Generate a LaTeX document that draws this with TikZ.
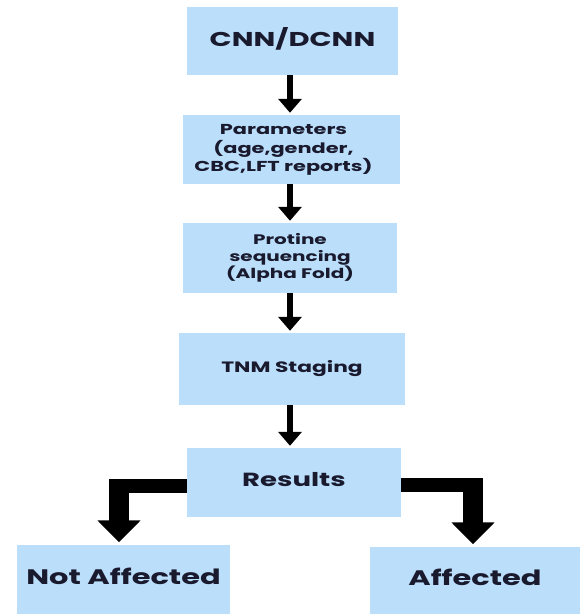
\documentclass[tikz,border=0pt]{standalone}
\usepackage{fontspec}
\setmainfont{Poppins}[UprightFont=* Bold, BoldFont=* Bold]
\usetikzlibrary{arrows.meta,calc}
\definecolor{boxblue}{HTML}{BBDEFB}
\definecolor{ink}{HTML}{1A1A2E}
\newcommand{\wtext}[3]{\scalebox{1.45}[1]{\fontsize{#1}{#2}\selectfont\begin{tabular}{@{}c@{}}#3\end{tabular}}}
\tikzset{
  box/.style={fill=boxblue, draw=none, inner sep=0pt, text=ink, anchor=center},
  varrow/.style={draw=black, line width=6pt, -{Triangle[width=23pt,length=14pt]}, shorten >=2pt},
  hbar/.style={draw=black, line width=14pt},
  bigarrow/.style={draw=black, line width=20pt, -{Triangle[width=42pt,length=22pt]}, shorten >=2.5pt},
}
\begin{document}
\begin{tikzpicture}[x=1pt,y=-1pt]
\useasboundingbox (0,0) rectangle (580,614);
\node[box, minimum width=211pt, minimum height=68pt] (b1) at (292.5,41) {\wtext{20}{24}{CNN/DCNN}};
\node[box, minimum width=217pt, minimum height=69pt] (b2) at (291.5,149.5) {\wtext{14.4}{18}{Parameters\\(age,gender,\\CBC,LFT reports)}\hspace*{16pt}};
\node[box, minimum width=214pt, minimum height=70pt] (b3) at (290,258) {\wtext{13.8}{17}{Protine\\sequencing\\(Alpha Fold)}};
\node[box, minimum width=226pt, minimum height=72pt] (b4) at (292,369) {\wtext{15}{18}{TNM Staging}};
\node[box, minimum width=214pt, minimum height=69pt] (b5) at (294,482.5) {\wtext{19}{22}{Results}};
\node[box, minimum width=213pt, minimum height=69pt] (b6) at (123.5,579.5) {\wtext{21}{24}{Not Affected}};
\node[box, minimum width=210pt, minimum height=67pt] (b7) at (475,580.5) {\wtext{21}{24}{Affected}};
\draw[varrow] (b1.south -| b3.north) -- (b2.north -| b3.north);
\draw[varrow] (b2.south -| b3.north) -- (b3.north);
\draw[varrow] (b3.south) -- (b4.north -| b3.south);
\draw[varrow] (b4.south -| b3.south) -- (b5.north -| b3.south);
\coordinate (lc) at (119,486);
\coordinate (rc) at (473,485);
\draw[hbar] (b5.west |- lc) -- ([xshift=-10pt]lc);
\draw[bigarrow] ([yshift=7pt]lc) -- (b6.north -| lc);
\draw[hbar] (b5.east |- rc) -- ([xshift=10pt]rc);
\draw[bigarrow] ([yshift=7pt]rc) -- (b7.north -| rc);
\end{tikzpicture}
\end{document}
